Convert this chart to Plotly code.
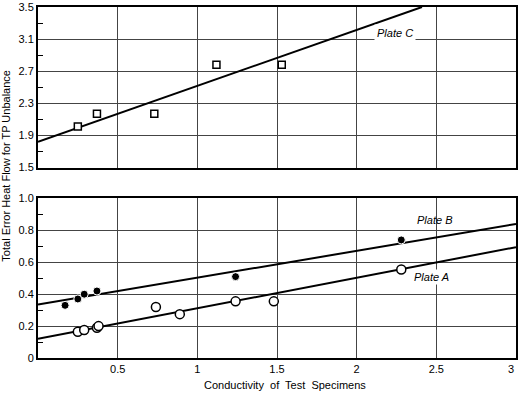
import plotly.graph_objects as go

# Plate C (top panel, open squares)
c_x = [0.25, 0.37, 0.73, 1.12, 1.53]
c_y = [2.01, 2.17, 2.17, 2.78, 2.78]
c_line_x = [0.0, 2.41]
c_line_y = [1.82, 3.5]

# Plate B (filled circles)
b_x = [0.17, 0.25, 0.29, 0.37, 1.24, 2.28]
b_y = [0.33, 0.37, 0.40, 0.42, 0.51, 0.74]
b_line_x = [0.0, 3.0]
b_line_y = [0.335, 0.84]

# Plate A (open circles)
a_x = [0.25, 0.29, 0.37, 0.38, 0.74, 0.89, 1.24, 1.48, 2.28]
a_y = [0.165, 0.175, 0.19, 0.20, 0.32, 0.275, 0.355, 0.355, 0.555]
a_line_x = [0.0, 3.0]
a_line_y = [0.12, 0.695]

x_ticks = [0.5, 1, 1.5, 2, 2.5]
x_labels = ["0.5", "1", "1.5", "2", "2.5"]
x_last = "3"
top_ticks = [1.5, 1.9, 2.3, 2.7, 3.1, 3.5]
top_labels = ["1.5", "1.9", "2.3", "2.7", "3.1", "3.5"]
top_minor = [1.7, 2.1, 2.5, 2.9, 3.3]
bot_ticks = [0, 0.2, 0.4, 0.6, 0.8, 1.0]
bot_labels = ["0", "0.2", "0.4", "0.6", "0.8", "1.0"]
bot_minor = [0.1, 0.3, 0.5, 0.7, 0.9]

FONT = "Liberation Sans, Arial, sans-serif"
fig = go.Figure()

fig.add_trace(go.Scatter(x=c_line_x, y=c_line_y, mode="lines", line=dict(color="black", width=2),
                         xaxis="x", yaxis="y", showlegend=False))
fig.add_trace(go.Scatter(x=c_x, y=c_y, mode="markers",
                         marker=dict(symbol="square", size=7, color="white", line=dict(color="black", width=1.5)),
                         xaxis="x", yaxis="y", showlegend=False))
fig.add_trace(go.Scatter(x=b_line_x, y=b_line_y, mode="lines", line=dict(color="black", width=2),
                         xaxis="x2", yaxis="y2", showlegend=False))
fig.add_trace(go.Scatter(x=a_line_x, y=a_line_y, mode="lines", line=dict(color="black", width=2),
                         xaxis="x2", yaxis="y2", showlegend=False))
fig.add_trace(go.Scatter(x=b_x, y=b_y, mode="markers",
                         marker=dict(symbol="circle", size=8, color="black", line=dict(color="white", width=1)),
                         xaxis="x2", yaxis="y2", showlegend=False))
fig.add_trace(go.Scatter(x=a_x, y=a_y, mode="markers",
                         marker=dict(symbol="circle", size=9, color="white", line=dict(color="black", width=1.5)),
                         xaxis="x2", yaxis="y2", showlegend=False))

axis_common = dict(showline=True, linecolor="black", linewidth=2, mirror=True,
                   gridcolor="#444", gridwidth=1, zeroline=False)

fig.update_layout(
    width=519, height=394,
    margin=dict(l=38, r=1, t=6, b=36),
    paper_bgcolor="white", plot_bgcolor="white",
    font=dict(family=FONT, size=11, color="black"),
    xaxis=dict(domain=[0, 1], range=[0, 3], anchor="y", tickvals=x_ticks, showticklabels=False,
               ticks="", **axis_common),
    yaxis=dict(domain=[0.5426, 1], range=[1.5, 3.5], anchor="x", tickvals=top_ticks, ticktext=top_labels,
               ticks="", minor=dict(tickvals=top_minor, ticks="inside", ticklen=5, tickcolor="black",
                                    showgrid=False),
               tickfont=dict(size=11), **axis_common),
    xaxis2=dict(domain=[0, 1], range=[0, 3], anchor="y2", tickvals=x_ticks, ticktext=x_labels,
                ticks="", tickfont=dict(size=11), **axis_common),
    yaxis2=dict(domain=[0, 0.4545], range=[0, 1], anchor="x2", tickvals=bot_ticks, ticktext=bot_labels,
                ticks="", minor=dict(tickvals=bot_minor, ticks="inside", ticklen=5, tickcolor="black",
                                     showgrid=False),
                tickfont=dict(size=11), **axis_common),
    annotations=[
        dict(text=x_last, x=3, xref="x2", y=-0.032, yref="paper", showarrow=False,
             xanchor="right", yanchor="middle", font=dict(size=11)),
        dict(text="<i>Plate C</i>", x=2.24, y=3.18, xref="x", yref="y", showarrow=False,
             bgcolor="white", font=dict(size=11), borderpad=2),
        dict(text="<i>Plate B</i>", x=2.49, y=0.865, xref="x2", yref="y2", showarrow=False,
             font=dict(size=11)),
        dict(text="<i>Plate A</i>", x=2.47, y=0.505, xref="x2", yref="y2", showarrow=False,
             bgcolor="white", font=dict(size=11)),
        dict(text="Conductivity  of  Test  Specimens", x=1.55, xref="x2", y=-0.077, yref="paper",
             showarrow=False, font=dict(size=11), yanchor="middle"),
        dict(text="Total Error Heat Flow for TP Unbalance", x=-0.067, xref="paper", y=0.548, yref="paper",
             textangle=-90, showarrow=False, font=dict(size=11), xanchor="center", yanchor="middle"),
    ],
)

fig.write_html("out.html")
